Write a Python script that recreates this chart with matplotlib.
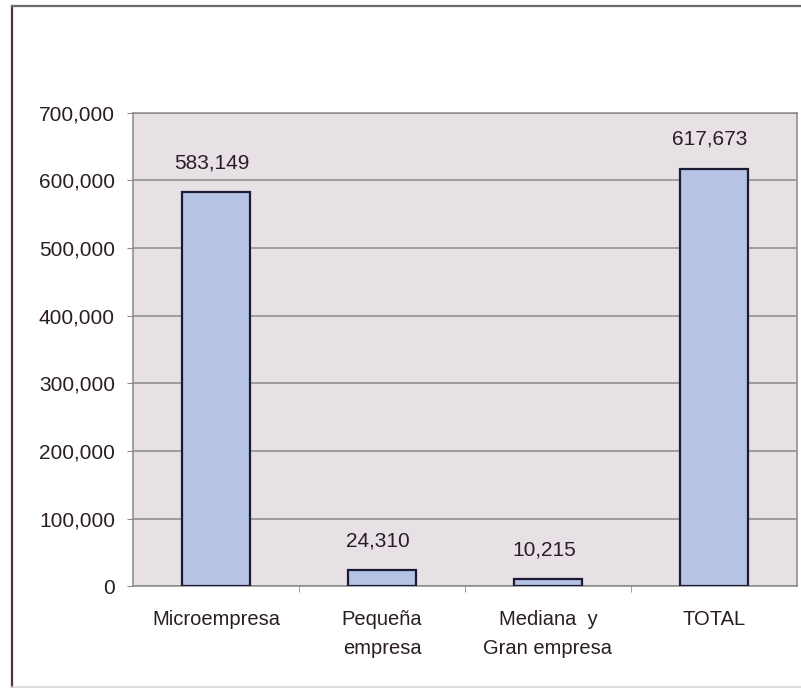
import matplotlib.pyplot as plt
from matplotlib.lines import Line2D
import numpy as np

categories = ["Microempresa", "Pequeña\nempresa", "Mediana  y\nGran empresa", "TOTAL"]
values = [583149, 24310, 10215, 617673]
y_ticks = [0, 100000, 200000, 300000, 400000, 500000, 600000, 700000]

plt.rcParams['font.family'] = ['Liberation Sans', 'DejaVu Sans']
text_color = '#2b1d26'

fig = plt.figure(figsize=(8.01, 6.88), dpi=100)
ax = fig.add_axes([0.166, 0.148, 0.829, 0.688])

# frame around the whole chart
fig.add_artist(Line2D([0.015, 0.015], [0.0, 0.991], transform=fig.transFigure, color='#4d3444', lw=1.6))
fig.add_artist(Line2D([0.015, 1.0], [0.991, 0.991], transform=fig.transFigure, color='#6e6a6e', lw=1.6))
fig.add_artist(Line2D([0.015, 1.0], [0.002, 0.002], transform=fig.transFigure, color='#d8d8d8', lw=1.2))

x = np.arange(len(categories))
ax.set_facecolor('#e7e0e5')
bars = ax.bar(x, values, width=0.41, color='#b5c3e5', edgecolor='#1c1a33', linewidth=1.6, zorder=3)

for xi, v in zip(x, values):
    ax.annotate(format(v, ','), (xi, v), xytext=(-3, 17), textcoords='offset points',
                ha='center', va='baseline', fontsize=15, color=text_color)

ax.set_xlim(-0.5, len(categories) - 0.5)
ax.set_ylim(0, 700000)
ax.set_yticks(y_ticks)
ax.set_yticklabels([format(t, ',') for t in y_ticks], fontsize=15, color=text_color)
ax.yaxis.grid(True, color='#8a8a8a', linewidth=1.1, zorder=0)
ax.set_axisbelow(True)

ax.set_xticks(x)
ax.set_xticklabels(categories, fontsize=14.5, color=text_color, linespacing=1.65, va='top')
ax.tick_params(axis='x', which='major', length=0, pad=17)
ax.set_xticks(np.arange(0.5, len(categories) - 1), minor=True)
ax.tick_params(axis='x', which='minor', length=4, color='#8a8a8a')
ax.tick_params(axis='y', length=4, color='#8a8a8a', pad=9)

for side in ['left', 'right', 'top', 'bottom']:
    ax.spines[side].set_color('#8a8a8a')
    ax.spines[side].set_linewidth(1.1)

plt.savefig('out.png', dpi=100, facecolor='white')
